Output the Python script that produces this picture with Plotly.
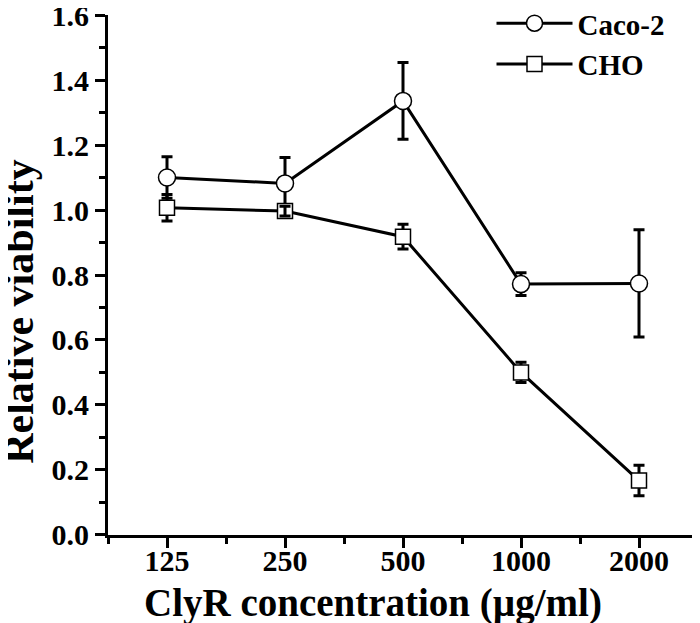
import plotly.graph_objects as go

# ---- data ----
concentrations = ["125", "250", "500", "1000", "2000"]
caco2 = [1.100, 1.082, 1.336, 0.772, 0.774]
caco2_err = [0.064, 0.080, 0.118, 0.035, 0.165]
cho = [1.007, 0.997, 0.918, 0.500, 0.167]
cho_err = [0.041, 0.015, 0.038, 0.031, 0.047]
y_tick_values = [0.0, 0.2, 0.4, 0.6, 0.8, 1.0, 1.2, 1.4, 1.6]

pos = list(range(len(concentrations)))
FONT = "Liberation Serif"

fig = go.Figure()

fig.add_trace(go.Scatter(
    x=pos, y=caco2, name="Caco-2", mode="lines+markers",
    line=dict(color="black", width=3),
    marker=dict(symbol="circle", size=17, color="white",
                line=dict(color="black", width=1.5)),
    error_y=dict(type="data", array=caco2_err, visible=True,
                 color="black", thickness=3, width=5.5),
    cliponaxis=False,
))
fig.add_trace(go.Scatter(
    x=pos, y=cho, name="CHO", mode="lines+markers",
    line=dict(color="black", width=3),
    marker=dict(symbol="square", size=15, color="white",
                line=dict(color="black", width=1.5)),
    error_y=dict(type="data", array=cho_err, visible=True,
                 color="black", thickness=3, width=5.5),
    cliponaxis=False,
))
# small error bar that shows on top of its marker (250 µg/ml, CHO)
fig.add_trace(go.Scatter(
    x=[pos[1]], y=[cho[1]], mode="markers", showlegend=False,
    marker=dict(size=1, opacity=0),
    error_y=dict(type="data", array=[cho_err[1]], visible=True,
                 color="black", thickness=3, width=5.5),
    cliponaxis=False, hoverinfo="skip",
))

axis_common = dict(
    showline=True, linewidth=3, linecolor="black",
    ticks="outside", ticklen=10, tickwidth=3, tickcolor="black",
    showgrid=False, zeroline=False, automargin=False,
)

# the page body adds an 8px margin, so the figure is 8px smaller each way
fig.update_layout(
    width=692, height=615,
    margin=dict(l=100, r=2, t=7, b=88, autoexpand=False),
    paper_bgcolor="white", plot_bgcolor="white",
    font=dict(family=FONT, size=30, color="black", weight="bold"),
    xaxis=dict(
        **axis_common,
        range=[-0.5, 4.5],
        tickmode="array", tickvals=pos, ticktext=concentrations,
        tickfont=dict(family=FONT, size=30, weight="bold"),
        ticklabelstandoff=-13,
        minor=dict(tickmode="linear", tick0=-0.5, dtick=1, ticks="outside",
                   ticklen=6, tickwidth=3, tickcolor="black"),
    ),
    yaxis=dict(
        **axis_common,
        range=[-0.0005, 1.6005],
        tickmode="array", tickvals=y_tick_values,
        ticktext=[f"{v:.1f}" for v in y_tick_values],
        tickfont=dict(family=FONT, size=30, weight="bold"),
        ticklabeloverflow="allow",
        minor=dict(tickmode="linear", tick0=0, dtick=0.1, ticks="outside",
                   ticklen=6, tickwidth=3, tickcolor="black"),
    ),
    legend=dict(
        x=0.65, y=1.033, xanchor="left", yanchor="top",
        bgcolor="rgba(0,0,0,0)", borderwidth=0,
        font=dict(family=FONT, size=29, weight="bold"),
        itemwidth=76, tracegroupgap=0,
    ),
    showlegend=True,
    annotations=[
        dict(text="ClyR concentration (µg/ml)", xref="paper", yref="paper",
             x=0.449, y=-0.131, xanchor="center", yanchor="middle",
             showarrow=False,
             font=dict(family=FONT, size=39, weight="bold", color="black")),
        dict(text="Relative viability", xref="paper", yref="paper",
             x=-0.151, y=0.429, xanchor="center", yanchor="middle",
             textangle=-90, showarrow=False,
             font=dict(family=FONT, size=42, weight="bold", color="black")),
    ],
)

fig.write_html("out.html")
